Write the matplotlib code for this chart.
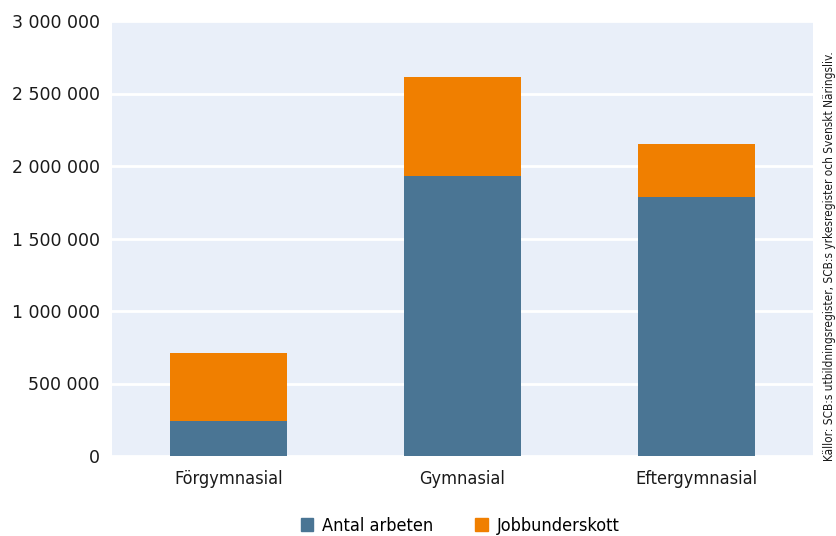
import matplotlib
matplotlib.use("Agg")
import matplotlib.pyplot as plt
from matplotlib import font_manager as fm
from matplotlib.patches import Patch

categories = ["Förgymnasial", "Gymnasial", "Eftergymnasial"]
antal_arbeten = [239000, 1929000, 1788000]
jobbunderskott = [473000, 685000, 362000]
yticks = [0, 500000, 1000000, 1500000, 2000000, 2500000, 3000000]
ytick_labels = ["0", "500 000", "1 000 000", "1 500 000", "2 000 000", "2 500 000", "3 000 000"]
series_names = ["Antal arbeten", "Jobbunderskott"]
source = "Källor: SCB:s utbildningsregister, SCB:s yrkesregister och Svenskt Näringsliv."

# pick a condensed font if available
cond = None
for f in fm.fontManager.ttflist:
    if f.name == "Liberation Sans Narrow":
        cond = dict(family="Liberation Sans Narrow")
        break
if cond is None:
    for f in fm.fontManager.ttflist:
        if f.name == "DejaVu Sans" and str(f.stretch) in ("condensed", "semi-condensed"):
            cond = dict(family="DejaVu Sans", stretch="condensed")
            break
if cond is None:
    cond = dict(family="DejaVu Sans")

BLUE = "#4A7594"
ORANGE = "#F07F00"
BG = "#E9EFF9"

fig = plt.figure(figsize=(8.36, 5.36), dpi=100)
ax = fig.add_axes([112/836, 80/536, (813-112)/836, (456-21)/536])
ax.set_facecolor(BG)

x = list(range(len(categories)))
ax.bar(x, antal_arbeten, width=0.5, color=BLUE, zorder=3, label=series_names[0])
ax.bar(x, jobbunderskott, width=0.5, bottom=antal_arbeten, color=ORANGE, zorder=3, label=series_names[1])

ax.set_xlim(-0.5, 2.5)
ax.set_ylim(0, 3000000)
ax.set_yticks(yticks)
ax.set_yticklabels(ytick_labels, fontsize=12.5, family="DejaVu Sans", color="#1a1a1a")
ax.set_xticks(x)
ax.set_xticklabels(categories, fontsize=13, color="#1a1a1a", **cond)
ax.tick_params(length=0)
ax.tick_params(axis="y", pad=9)
ax.tick_params(axis="x", pad=10)
ax.grid(axis="y", color="white", linewidth=2, zorder=1)
for s in ax.spines.values():
    s.set_visible(False)

handles = [Patch(color=BLUE), Patch(color=ORANGE)]
fig.legend(handles, series_names, loc="center", bbox_to_anchor=(460/836, 1 - 526/536),
           ncol=2, frameon=False, handlelength=0.7, handleheight=0.7, handletextpad=0.5,
           columnspacing=2.3, prop=dict(size=13, **cond))

fig.text(829/836, 1 - 256/536, source, rotation=90, ha="center", va="center",
         fontsize=8.5, color="#1a1a1a", **cond)

fig.savefig("out.png", dpi=100)
